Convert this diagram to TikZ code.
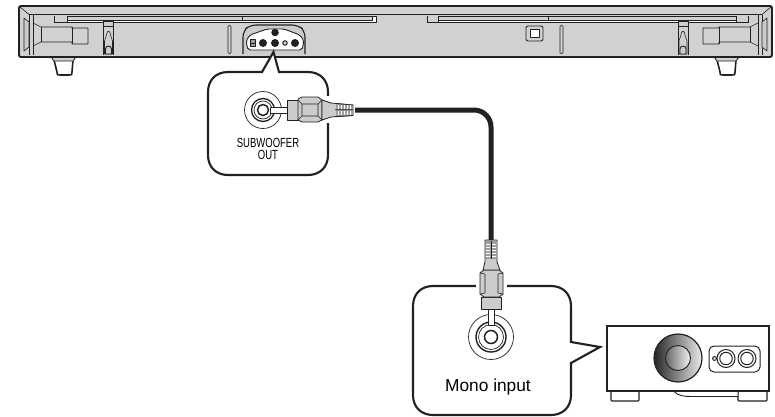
\documentclass[tikz,border=0pt]{standalone}
\usepackage{fontspec}
\setmainfont{Liberation Sans}
\newfontfamily\condfont[FakeStretch=0.72]{Liberation Sans}
\definecolor{barg}{gray}{0.82}
\definecolor{ink}{gray}{0.13}
\definecolor{plugg}{gray}{0.8}
\definecolor{plugd}{gray}{0.62}
\tikzset{
  barline/.style={draw=ink,line width=0.9pt,line join=round},
  thinl/.style={draw=ink,line width=0.6pt,line join=round},
  callout/.style={draw=ink,line width=2.1pt,fill=white,line join=miter},
  plugpart/.style={draw=ink,line width=0.8pt,fill=plugg,line join=round},
  cablew/.style={draw=ink,line width=5pt,rounded corners=17pt},
  jackdot/.style={circle,fill=ink,inner sep=0pt,minimum size=#1},
  lbl/.style={inner sep=0pt,align=center}
}
\begin{document}
\begin{tikzpicture}[x=1pt,y=-1pt]
\useasboundingbox (0,0) rectangle (775,416);
% --- bar feet
\foreach \a/\b/\c/\d in {52/75/57/72,715/738/720/735}{
  \draw[barline,line width=1.6pt,fill=white] (\a,58) -- (\a+2,60) -- (\c,72) .. controls (\c,75) .. (\c+3,75) -- (\d-3,75) .. controls (\d,75) .. (\d,72) -- (\b-2,60) -- (\b,58);
  \draw[thinl,fill=barg] (\a,58) -- (\a+2,61) -- (\b-2,61) -- (\b,58);
}
% --- bar body
\draw[draw=ink,line width=1.9pt,fill=barg,rounded corners=2pt] (19,6) rectangle (772,57);
\draw[thinl] (29,14.5) -- (762,14.5);
\draw[thinl] (19.5,6.5) -- (29,14.5) (771.5,6.5) -- (762,14.5);
% slots
\draw[barline,fill=white] (54,16) rectangle (376,22);
\draw[barline,fill=barg] (67,16) rectangle (372,20);
\draw[barline,fill=barg] (54,16) -- (54,22) -- (67,22) -- (67,16);
\draw[thinl] (242,16) -- (242,20);
\draw[barline,fill=white] (427,16) rectangle (748,22);
\draw[barline,fill=barg] (438,16) rectangle (736,20);
\draw[barline,fill=barg] (427,16) -- (427,22) -- (438,22) -- (438,16);
\draw[barline,fill=barg] (736,16) -- (736,22) -- (748,22) -- (748,16);
\draw[thinl] (548,16) -- (548,20);
% left end
\draw[thinl] (29,14.5) -- (29,55) (33,14.5) -- (33,55);
\draw[thinl,fill=plugg] (24,18) -- (29,22) -- (29,47) -- (24,51) -- cycle;
\draw[thinl] (33,23) -- (41,27) -- (72,27) -- (72,28) -- (88,28) -- (88,44) -- (72,44) -- (72,42) -- (41,42) -- (33,46);
\draw[thinl] (41,27) -- (41,42) (72,27) -- (72,44);
% right end
\draw[thinl] (762,14.5) -- (762,55) (758,14.5) -- (758,55);
\draw[thinl,fill=plugg] (767,18) -- (762,22) -- (762,47) -- (767,51) -- cycle;
\draw[thinl] (758,23) -- (750,27) -- (719,27) -- (719,28) -- (703,28) -- (703,44) -- (719,44) -- (719,42) -- (750,42) -- (758,46);
\draw[thinl] (750,27) -- (750,42) (719,27) -- (719,44);
% keyholes
\foreach \k in {108.5,683}{
  \draw[thinl,fill=plugg] (\k-5,21) rectangle (\k+5,26);
  \draw[thinl] (\k-5,26) -- (\k-5,55) (\k+5,26) -- (\k+5,55);
  \draw[thinl,fill=barg] (\k-2,35) .. controls (\k-2,30) and (\k+2,30) .. (\k+2,35) -- (\k+4,41) -- (\k+4,54) -- (\k-4,54) -- (\k-4,41) -- cycle;
  \draw[barline,fill=plugg] (\k-3,54) -- (\k-3,49) .. controls (\k-3,45) and (\k+3,45) .. (\k+3,49) -- (\k+3,54) -- cycle;
}
% thin vertical slots
\draw[thinl,fill=barg,rounded corners=1.5pt] (228,25) rectangle (231,54);
\draw[thinl,fill=barg,rounded corners=1.5pt] (560,25) rectangle (563,54);
% small square
\draw[barline,rounded corners=2pt] (526,26) rectangle (543,41);
\draw[barline,fill=white] (530,29) rectangle (539,37);
% connector panel
\draw[barline,line width=1.1pt,fill=plugg,rounded corners=6pt] (243,54) -- (243,31) -- (250,25) -- (298,25) -- (305,31) -- (305,54);
\draw[barline,fill=white,rounded corners=2pt] (250,35) -- (267,29) -- (284,29) -- (300,35) -- (304,41) -- (302,50) -- (248,50) -- (246,41) -- cycle;
\node[jackdot=7.5pt] (j1) at (275,32.5) {};
\node[jackdot=8pt] (j2) at (263,43) {};
\node[jackdot=8pt] (j3) at (275,43) {};
\node[circle,draw=ink,fill=plugg,line width=1pt,inner sep=0pt,minimum size=4.5pt] (j4) at (285,43) {};
\node[jackdot=8pt] (j5) at (295,43) {};
\draw[thinl,fill=plugd] (250,39.5) rectangle (255,46.5);
\draw[thinl] (250,43) -- (255,43);
% --- callout 1
\draw[callout] (262,72) -- (273.5,52) -- (279,72) -- (308,72) .. controls (320,72) and (328,80) .. (328,92) -- (328,155)
  .. controls (328,167) and (320,175) .. (308,175) -- (228,175) .. controls (216,175) and (208,167) .. (208,155) -- (208,92) .. controls (208,80) and (216,72) .. (228,72) -- cycle;
% jack 1
\draw[ink,line width=0.7pt] (263,110) circle (18.5);
\draw[ink,line width=1.3pt] (263,110) circle (11.5);
\draw[ink,line width=0.7pt] (263,110) circle (9);
\draw[ink,line width=1.5pt] (263,110) circle (5.5);
% cable
\coordinate (cableA) at (355,110);
\coordinate (cableB) at (491,240);
\draw[cablew] (cableA) -| (cableB);
% plug 1
\fill[white] (322,96) rectangle (334,123);
\draw[plugpart,fill=white] (270,107) rectangle (287,113);
\draw[plugpart] (287,100) -- (298,100) -- (298,120) -- (287,120) -- cycle;
\draw[plugpart] (298,99) -- (302,97) -- (318,97) -- (322,100) -- (322,120) -- (318,122) -- (302,122) -- (298,120) -- cycle;
\draw[thinl] (302,104) -- (318,104) (302,116) -- (318,116) (298,100) -- (302,104) -- (302,116) -- (298,120) (322,100) -- (318,104) -- (318,116) -- (322,120);
\draw[plugpart] (322,100) -- (331,103) -- (353,105) -- (353,115.5) -- (331,117) -- (322,120) -- cycle;
\fill[plugd] (336,104) rectangle (353,116);
\foreach \x in {338,341,344,347,350}{\draw[white,line width=0.9pt] (\x,105) -- (\x,109) (\x,111) -- (\x,115);}
\draw[ink,line width=0.7pt] (335,103.5) -- (353,105) (335,109.8) -- (353,109.8) (335,116.5) -- (353,115.5);
% label 1
\node[lbl,font=\condfont\fontsize{13.2}{12.5}\selectfont] (subout) at (268,149) {SUBWOOFER\\OUT};
% --- callout 2
\draw[callout] (433,286) -- (551,286) .. controls (563,286) and (571,294) .. (571,306) -- (571,342) -- (600,347) -- (571,363) -- (571,395)
  .. controls (571,407) and (563,415) .. (551,415) -- (433,415) .. controls (421,415) and (413,407) .. (413,395) -- (413,306) .. controls (413,294) and (421,286) .. (433,286) -- cycle;
\fill[white] (476,283) rectangle (507,290);
% jack 2
\draw[ink,line width=0.7pt] (491,337) circle (22.5);
\draw[ink,line width=1.4pt] (491,337) circle (15);
\draw[ink,line width=0.7pt] (491,337) circle (12.5);
\draw[ink,line width=1.5pt] (491,337) circle (6.5);
% plug 2
\draw[plugpart,fill=white] (488,309) rectangle (494,325);
\draw[plugpart] (481,297) -- (501,297) -- (501,309) -- (481,309) -- cycle;
\draw[plugpart] (480,273) -- (484,270) -- (499,270) -- (503,273) -- (503,294) -- (499,297) -- (484,297) -- (480,294) -- cycle;
\draw[thinl] (485,274) -- (485,293) (498,274) -- (498,293) (480,273) -- (485,274) (503,273) -- (498,274) (480,294) -- (485,293) (503,294) -- (498,293);
\draw[plugpart] (483,270) -- (485,262) -- (485,240) -- (497,240) -- (497,262) -- (500,270) -- cycle;
\fill[plugd] (485.5,241) rectangle (496.5,259);
\foreach \y in {244,247,250,253,256}{\draw[white,line width=0.9pt] (486,\y) -- (490,\y) (492,\y) -- (496,\y);}
\draw[ink,line width=0.7pt] (491,241) -- (491,259);
% label 2
\node[lbl,font=\fontsize{17.3}{18}\selectfont] (mono) at (488,387) {Mono input};
% --- subwoofer
\foreach \a/\b in {611/639,738/767}{
  \draw[draw=ink,line width=1.3pt,fill=white,rounded corners=1pt] (\a,391) -- (\a,401) -- (\b,401) -- (\b,391);
}
\draw[barline,fill=white] (674,391.5) .. controls (678,396) and (685,396.5) .. (692,396.5) -- (738,396.5) -- (738,391.5) -- cycle;
\draw[draw=ink,line width=1.3pt] (607,326) rectangle (769,391);
\node[circle,draw=ink,line width=1.2pt,inner sep=0pt,minimum size=48pt,
      left color=black!85,right color=black!8] (knob) at (678,358) {};
\node[circle,draw=ink,line width=0.9pt,inner sep=0pt,minimum size=25pt,
      left color=black!60,right color=black!5] (knobin) at (678,358) {};
\draw[barline,line width=1pt,rounded corners=5pt] (709,346) rectangle (760,372);
\node[circle,draw=ink,line width=0.8pt,fill=plugg,inner sep=0pt,minimum size=4pt] (ss) at (714.5,358.5) {};
\foreach \n/\x in {a/726,b/747}{
  \node[circle,draw=ink,line width=1pt,inner sep=0pt,minimum size=18pt] (o\n) at (\x,358.5) {};
  \node[circle,draw=ink,line width=1pt,inner sep=0pt,minimum size=12.5pt] (i\n) at (\x,358.5) {};
}
\end{tikzpicture}
\end{document}
